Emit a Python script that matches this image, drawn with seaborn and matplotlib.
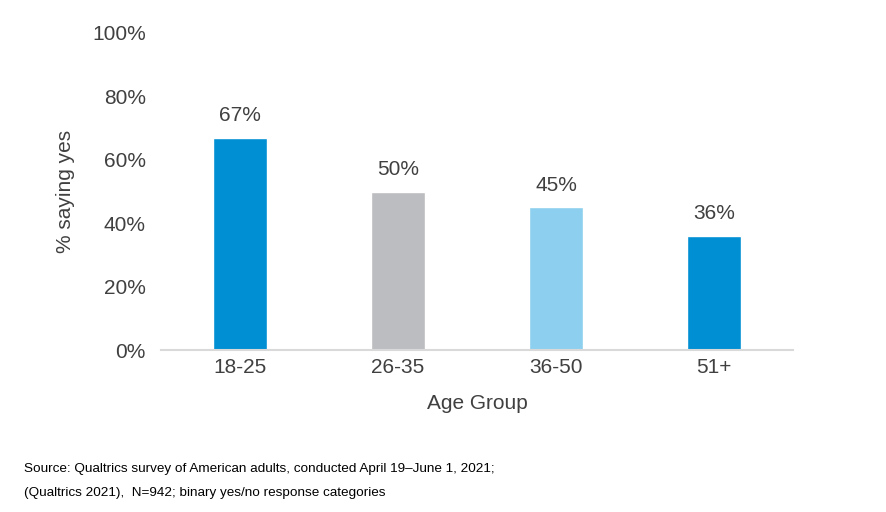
import matplotlib
matplotlib.use("Agg")
import matplotlib.pyplot as plt
import seaborn as sns
import pandas as pd

# data
age_groups = ["18-25", "26-35", "36-50", "51+"]
pct_yes = [67, 50, 45, 36]
bar_colors = ["#008FD3", "#BCBDC0", "#8DCFEE", "#008FD3"]
y_ticks = [0, 20, 40, 60, 80, 100]

source_lines = [
    "Source: Qualtrics survey of American adults, conducted April 19\u2013June 1, 2021;",
    "(Qualtrics 2021),  N=942; binary yes/no response categories",
]

sns.set_theme(style="white")
plt.rcParams["font.family"] = ["Liberation Sans", "DejaVu Sans"]

text_color = "#404040"
fs = 15

df = pd.DataFrame({"age": age_groups, "pct": pct_yes})

fig = plt.figure(figsize=(8.86, 5.12), dpi=100)
ax = fig.add_axes([161 / 886, 1 - 350 / 512, (793 - 161) / 886, (350 - 33) / 512])

sns.barplot(
    data=df,
    x="age",
    y="pct",
    hue="age",
    palette=bar_colors,
    legend=False,
    width=0.34,
    saturation=1,
    ax=ax,
)

for container, val in zip(ax.containers, pct_yes):
    ax.bar_label(container, labels=[f"{val}%"], padding=9,
                 fontsize=fs, color=text_color)

ax.set_ylim(0, 100)
ax.set_xlim(-0.5, 3.5)
ax.set_yticks(y_ticks)
ax.set_yticklabels([f"{t}%" for t in y_ticks])
ax.tick_params(axis="y", length=0, pad=11, labelsize=fs, labelcolor=text_color)
ax.tick_params(axis="x", length=0, pad=6, labelsize=fs, labelcolor=text_color)

ax.set_xlabel("Age Group", fontsize=fs, color=text_color, labelpad=12)
ax.set_ylabel("% saying yes", fontsize=fs, color=text_color, labelpad=12)

sns.despine(ax=ax, left=True)
ax.spines["bottom"].set_color("#D9D9D9")
ax.spines["bottom"].set_linewidth(1.5)

fig.text(24 / 886, 1 - 469 / 512, source_lines[0], fontsize=9.7,
         color="#000000", va="center", ha="left")
fig.text(24 / 886, 1 - 493 / 512, source_lines[1], fontsize=9.7,
         color="#000000", va="center", ha="left")

fig.savefig("out.png", dpi=100, facecolor="white")
plt.close(fig)
